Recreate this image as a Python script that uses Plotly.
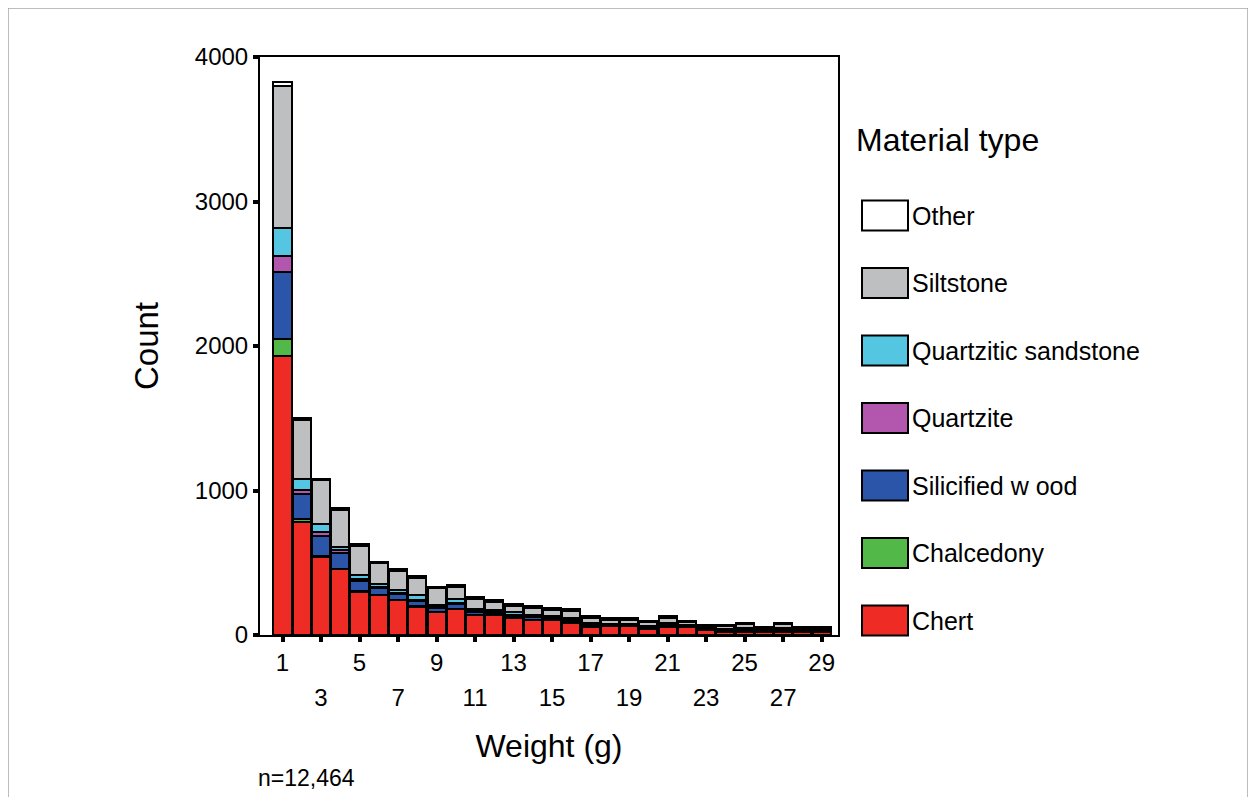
import plotly.graph_objects as go

# ---------------- data ----------------
weights = list(range(1, 30))
chert = [1930, 780, 540, 455, 300, 275, 240, 195, 160, 180, 135, 135, 120, 105, 105, 85, 58, 60, 60, 41,
         55, 55, 35, 21, 23, 23, 23, 23, 23]
chalcedony = [120, 25, 5, 5, 5, 3, 3, 3, 2, 3, 3, 2, 2, 2, 2, 2, 1, 1, 1, 1,
              1, 1, 0, 1, 1, 0, 1, 0, 0]
silicified_wood = [460, 170, 140, 105, 70, 45, 40, 35, 25, 30, 20, 18, 15, 15, 12, 15, 12, 8, 8, 10,
                   12, 6, 6, 8, 10, 6, 10, 6, 6]
quartzite = [115, 30, 25, 20, 10, 8, 5, 10, 8, 8, 5, 5, 4, 4, 3, 4, 3, 2, 2, 2,
             3, 2, 2, 2, 2, 1, 2, 1, 1]
quartzitic_sandstone = [195, 75, 60, 25, 30, 25, 25, 35, 15, 30, 20, 15, 15, 14, 12, 14, 12, 8, 8, 10,
                        12, 6, 6, 8, 10, 5, 10, 5, 5]
siltstone = [980, 410, 300, 255, 200, 140, 130, 115, 112, 80, 67, 55, 45, 45, 42, 45, 33, 28, 28, 25,
             38, 20, 12, 20, 30, 13, 30, 13, 13]
other = [30, 10, 8, 15, 15, 10, 15, 15, 10, 14, 12, 12, 13, 15, 14, 15, 12, 10, 10, 10,
         10, 7, 8, 9, 9, 7, 9, 7, 7]

series_names = ["Chert", "Chalcedony", "Silicified w ood", "Quartzite",
                "Quartzitic sandstone", "Siltstone", "Other"]
series_values = [chert, chalcedony, silicified_wood, quartzite,
                 quartzitic_sandstone, siltstone, other]
series_colors = ["#ee2b25", "#52b848", "#2a55a8", "#b257ad", "#55c6e2", "#bebfc1", "#ffffff"]

y_ticks = [0, 1000, 2000, 3000, 4000]
x_ticks_row1 = [1, 5, 9, 13, 17, 21, 25, 29]
x_ticks_row2 = [3, 7, 11, 15, 19, 23, 27]
legend_title = "Material type"
x_title = "Weight (g)"
y_title = "Count"
note = "n=12,464"

# ---------------- geometry ----------------
OFF = 8                                  # page body margin
W, H = 1256 - OFF, 797 - OFF
L, R, T, B = 260 - OFF, 838 - OFF, 57 - OFF, 635 - OFF   # plot area (figure pixels)
pw, ph = R - L, B - T
FONT = "Liberation Sans, Arial, sans-serif"


def px2paper(x, y):
    """reference-image pixel -> paper coordinates"""
    return (x - OFF - L) / pw, (B - (y - OFF)) / ph


fig = go.Figure()
for name, vals, col in zip(series_names, series_values, series_colors):
    fig.add_trace(go.Bar(
        x=weights, y=vals, name=name,
        marker=dict(color=col, line=dict(color="black", width=2)),
        showlegend=False,
    ))
# invisible helper so the second tick-label row axis is created
fig.add_trace(go.Scatter(x=[], y=[], xaxis="x2", showlegend=False, hoverinfo="skip"))

x_range = [-0.17, 29.85]
odd_ticks = list(range(1, 30, 2))
tick_font = dict(size=24, family=FONT, color="black")
fig.update_layout(
    width=W, height=H,
    margin=dict(l=L, r=W - R, t=T, b=H - B, autoexpand=False),
    paper_bgcolor="white", plot_bgcolor="white",
    barmode="stack", bargap=0.06,
    font=dict(family=FONT, color="black"),
    xaxis=dict(
        range=x_range, tickmode="array", tickvals=odd_ticks,
        ticktext=[str(v) if v in x_ticks_row1 else "" for v in odd_ticks],
        ticks="outside", ticklen=5, tickwidth=4, tickcolor="black",
        showline=True, linewidth=2, linecolor="black", mirror=True,
        showgrid=False, zeroline=False,
        tickfont=tick_font,
        title=dict(text=x_title, font=dict(size=32, family=FONT, color="black"), standoff=60),
    ),
    xaxis2=dict(
        overlaying="x", anchor="y", side="bottom", range=x_range,
        tickmode="array", tickvals=x_ticks_row2, ticktext=[str(v) for v in x_ticks_row2],
        ticks="outside", ticklen=5, tickcolor="rgba(0,0,0,0)",
        showline=False, showgrid=False, zeroline=False,
        ticklabelstandoff=36,
        tickfont=tick_font,
    ),
    yaxis=dict(
        range=[0, 4000], tickmode="array", tickvals=y_ticks,
        ticks="outside", ticklen=5, tickwidth=4, tickcolor="black",
        showline=True, linewidth=2, linecolor="black", mirror=True,
        showgrid=False, zeroline=False,
        tickfont=tick_font,
        title=dict(text=y_title, font=dict(size=33, family=FONT, color="black"), standoff=26),
    ),
)

shapes = []
annotations = []

# outer frame of the figure
fx0, fy0 = px2paper(8, 810)
fx1, fy1 = px2paper(1248, 8)
shapes.append(dict(type="rect", xref="paper", yref="paper", x0=fx0, x1=fx1, y0=fy0, y1=fy1,
                   line=dict(color="#a8a8a8", width=1.5), fillcolor="rgba(0,0,0,0)", layer="below"))

# legend (drawn manually to match the large swatches)
tx, ty = px2paper(854, 140)
annotations.append(dict(text=legend_title, xref="paper", yref="paper", x=tx, y=ty,
                        xanchor="left", yanchor="middle", showarrow=False,
                        font=dict(size=32, family=FONT, color="black")))
first_cy, step = 215.5, 67.5
for i, (name, col) in enumerate(zip(series_names[::-1], series_colors[::-1])):
    cy = first_cy + step * i
    bx0, by0 = px2paper(862, cy + 15)
    bx1, by1 = px2paper(908, cy - 15)
    shapes.append(dict(type="rect", xref="paper", yref="paper", x0=bx0, x1=bx1, y0=by0, y1=by1,
                       line=dict(color="black", width=2), fillcolor=col))
    lx, ly = px2paper(910, cy)
    annotations.append(dict(text=name, xref="paper", yref="paper", x=lx, y=ly,
                            xanchor="left", yanchor="middle", showarrow=False,
                            font=dict(size=25, family=FONT, color="black")))

nx, ny = px2paper(256, 778)
annotations.append(dict(text=note, xref="paper", yref="paper", x=nx, y=ny,
                        xanchor="left", yanchor="middle", showarrow=False,
                        font=dict(size=23, family=FONT, color="black")))

fig.update_layout(shapes=shapes, annotations=annotations)
fig.write_html("out.html")
